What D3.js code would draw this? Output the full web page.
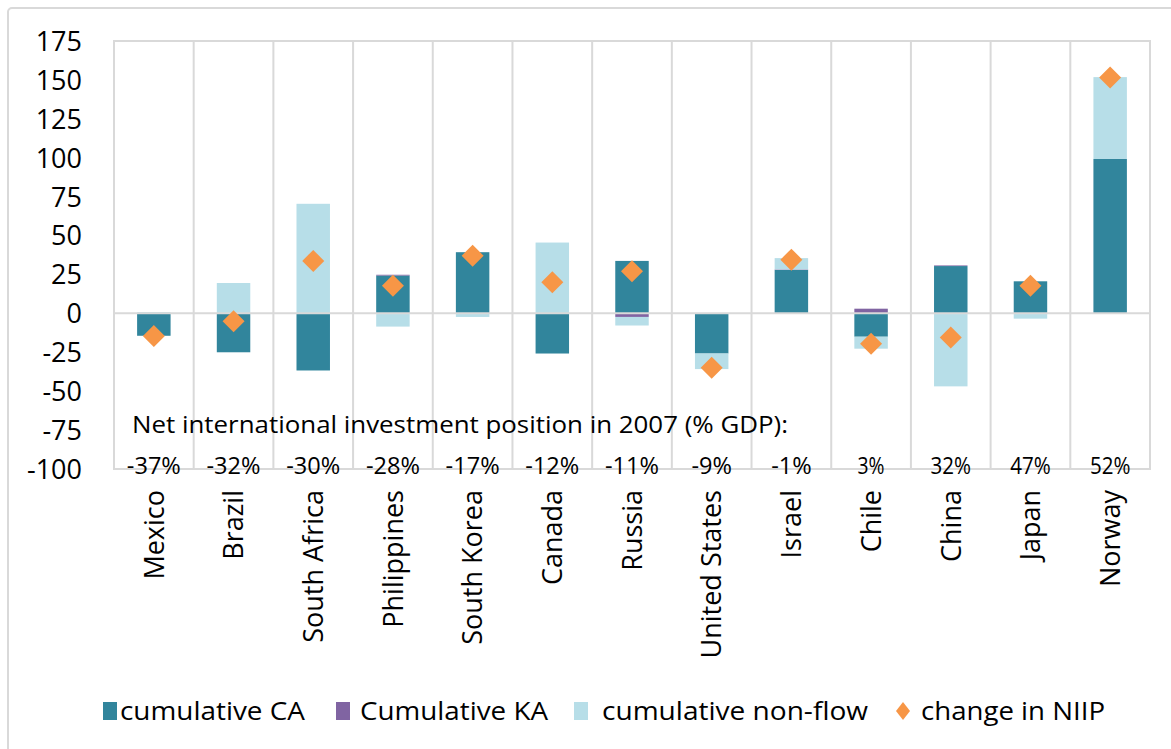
<!DOCTYPE html>
<html>
<head>
<meta charset="utf-8">
<script src="https://cdn.jsdelivr.net/npm/d3@7"></script>
<style>
  body { margin: 0; background: #fff; }
  text { font-family: "Open Sans", sans-serif; fill: #000; }
</style>
</head>
<body>
<script>
// Chart data
const countries = ["Mexico", "Brazil", "South Africa", "Philippines", "South Korea", "Canada",
    "Russia", "United States", "Israel", "Chile", "China", "Japan", "Norway"];
const niip2007 = [-37, -32, -30, -28, -17, -12, -11, -9, -1, 3, 32, 47, 52];
const cumulativeCA = [-14.4, -25, -36.7, 24.3, 39.3, -25.8, 33.7, -25.8, 27.9, -15, 30.4, 20.6, 99.2];
const cumulativeKA = [0, 0, 0, 0.5, 0, 0, -2.3, 0, 0.3, 3.0, 0.4, 0, 0];
const cumulativeNonFlow = [0.8, 19.5, 70.4, -8.5, -2.3, 45.5, -5.5, -10, 7.3, -7.7, -46.9, -3.4, 52.6];
const changeNIIP = [-14.5, -5, 33.7, 17.7, 37, 20, 27, -35, 34.5, -19.5, -15.5, 17.7, 151.6];
const yTicks = [175, 150, 125, 100, 75, 50, 25, 0, -25, -50, -75, -100];

const seriesKeys = ["ca", "ka", "nonflow"];
const seriesNames = ["cumulative CA", "Cumulative KA", "cumulative non-flow"];
const colors = { ca: "#31859c", ka: "#8064a2", nonflow: "#b7dee8", niip: "#f79646" };

const width = 1171, height = 749;
const plot = { left: 114, right: 1150, top: 41, bottom: 469 };

const svg = d3.select("body").append("svg")
    .attr("width", width)
    .attr("height", height);

// outer chart border
svg.append("rect")
    .attr("x", 8).attr("y", 8)
    .attr("width", 1175).attr("height", 750)
    .attr("rx", 4)
    .attr("fill", "none")
    .attr("stroke", "#d9d9d9")
    .attr("stroke-width", 2);

const x = d3.scaleBand()
    .domain(countries)
    .range([plot.left, plot.right])
    .paddingInner(0.58)
    .paddingOuter(0.29);
const band = d3.scaleBand().domain(countries).range([plot.left, plot.right]);

const y = d3.scaleLinear()
    .domain([-100, 175])
    .range([plot.bottom, plot.top]);

// plot frame and vertical gridlines
const grid = svg.append("g").attr("stroke", "#d9d9d9").attr("stroke-width", 2);
grid.append("rect")
    .attr("x", plot.left).attr("y", plot.top)
    .attr("width", plot.right - plot.left).attr("height", plot.bottom - plot.top)
    .attr("fill", "none");
grid.selectAll("line.v")
    .data(countries.slice(1))
    .enter()
    .append("line")
    .attr("x1", d => band(d)).attr("x2", d => band(d))
    .attr("y1", plot.top).attr("y2", plot.bottom);

// y axis labels (plain hyphen minus, like the original)
const yAxis = d3.axisLeft(y).tickValues(yTicks).tickSize(0).tickPadding(0)
    .tickFormat(d => String(d));
const yg = svg.append("g")
    .attr("transform", `translate(82,0)`)
    .call(yAxis);
yg.select(".domain").remove();
yg.selectAll("text")
    .attr("font-size", 27)
    .attr("font-family", "Open Sans, sans-serif")
    .attr("fill", "#000")
    .attr("dy", "0.35em");

// stacked bars
const rows = countries.map((c, i) => ({
    country: c, ca: cumulativeCA[i], ka: cumulativeKA[i], nonflow: cumulativeNonFlow[i]
}));
const stacked = d3.stack()
    .keys(seriesKeys)
    .offset(d3.stackOffsetDiverging)(rows);

svg.append("g")
    .selectAll("g")
    .data(stacked)
    .enter()
    .append("g")
    .attr("fill", d => colors[d.key])
    .selectAll("rect")
    .data(d => d)
    .enter()
    .append("rect")
    .attr("x", d => x(d.data.country))
    .attr("width", x.bandwidth())
    .attr("y", d => y(Math.max(d[0], d[1])))
    .attr("height", d => Math.abs(y(d[0]) - y(d[1])));

// zero line
svg.append("line")
    .attr("x1", plot.left).attr("x2", plot.right)
    .attr("y1", y(0)).attr("y2", y(0))
    .attr("stroke", "#d9d9d9")
    .attr("stroke-width", 2);

// change in NIIP diamonds
const diamond = "M0,-11L11,0L0,11L-11,0Z";
svg.append("g")
    .selectAll("path")
    .data(changeNIIP)
    .enter()
    .append("path")
    .attr("d", diamond)
    .attr("fill", colors.niip)
    .attr("transform", (d, i) => `translate(${x(countries[i]) + x.bandwidth() / 2},${y(d)})`);

// NIIP 2007 annotation
svg.append("text")
    .attr("x", 132).attr("y", 433)
    .attr("font-size", 24)
    .attr("textLength", 656)
    .attr("lengthAdjust", "spacingAndGlyphs")
    .text("Net international investment position in 2007 (% GDP):");

svg.append("g")
    .selectAll("text")
    .data(niip2007)
    .enter()
    .append("text")
    .attr("x", (d, i) => band(countries[i]) + band.bandwidth() / 2)
    .attr("y", 474)
    .attr("text-anchor", "middle")
    .attr("font-size", 24)
    .attr("textLength", d => (String(d).length + 1) * 13.5)
    .attr("lengthAdjust", "spacingAndGlyphs")
    .text(d => d + "%");

// category labels
svg.append("g")
    .selectAll("text")
    .data(countries)
    .enter()
    .append("text")
    .attr("transform", d => `translate(${band(d) + band.bandwidth() / 2},490) rotate(-90)`)
    .attr("text-anchor", "end")
    .attr("dy", "0.36em")
    .attr("font-size", 27)
    .text(d => d);

// legend
const legendItems = [
    { key: "ca", name: seriesNames[0], sx: 103, tx: 120, tw: 185 },
    { key: "ka", name: seriesNames[1], sx: 336, tx: 360, tw: 188 },
    { key: "nonflow", name: seriesNames[2], sx: 574, tx: 602, tw: 266 },
    { key: "niip", name: "change in NIIP", sx: 895, tx: 921, tw: 184 }
];
const legend = svg.append("g");
legendItems.forEach(item => {
    if (item.key === "niip") {
        legend.append("path")
            .attr("d", "M0,-9L7,0L0,9L-7,0Z")
            .attr("fill", colors.niip)
            .attr("transform", `translate(${item.sx + 8},711)`);
    } else {
        legend.append("rect")
            .attr("x", item.sx).attr("y", 702)
            .attr("width", 14).attr("height", 18)
            .attr("fill", colors[item.key]);
    }
    legend.append("text")
        .attr("x", item.tx).attr("y", 720)
        .attr("font-size", 26)
        .attr("textLength", item.tw)
        .attr("lengthAdjust", "spacingAndGlyphs")
        .text(item.name);
});
</script>
</body>
</html>
